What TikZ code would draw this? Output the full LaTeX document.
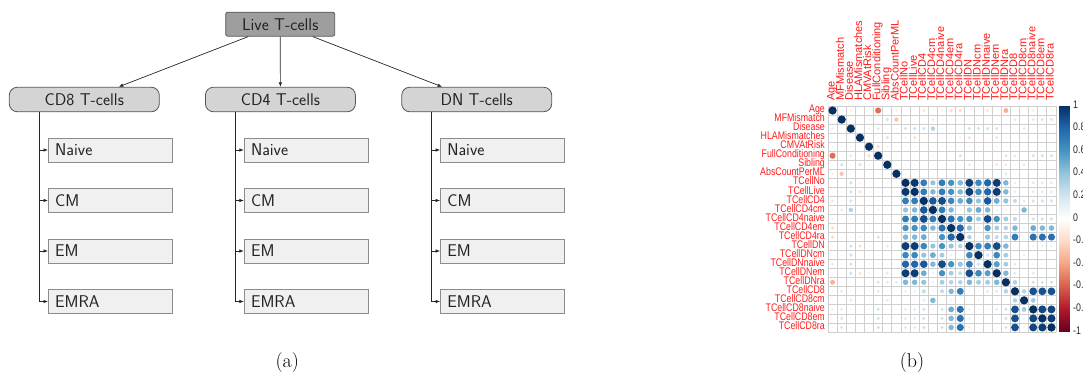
\documentclass[tikz,border=0pt]{standalone}
\usepackage{fontspec}
\usepackage{graphicx}
\usetikzlibrary{arrows.meta}
\newfontfamily\rfont{Liberation Sans}
\definecolor{p0}{HTML}{67001F}
\definecolor{p1}{HTML}{B2182B}
\definecolor{p2}{HTML}{D6604D}
\definecolor{p3}{HTML}{F4A582}
\definecolor{p4}{HTML}{FDDBC7}
\definecolor{p5}{HTML}{FFFFFF}
\definecolor{p6}{HTML}{D1E5F0}
\definecolor{p7}{HTML}{92C5DE}
\definecolor{p8}{HTML}{4393C3}
\definecolor{p9}{HTML}{2166AC}
\definecolor{p10}{HTML}{053061}
\definecolor{rootfill}{HTML}{9E9E9E}
\definecolor{midfill}{HTML}{D4D4D4}
\definecolor{leaffill}{HTML}{F0F0F0}
\definecolor{boxline}{HTML}{555555}
\definecolor{leafline}{HTML}{8C8C8C}
\definecolor{gridline}{HTML}{CFCFCF}
\definecolor{lblred}{HTML}{FF1A1A}
\definecolor{txt}{HTML}{222222}
\newcommand\cmset[3]{\expandafter\xdef\csname cm-#1-#2\endcsname{#3}\expandafter\xdef\csname cm-#2-#1\endcsname{#3}}
\newcommand\cmcolor[1]{%
 \pgfmathtruncatemacro\cidx{min(9,floor((#1+1)*5))}%
 \pgfmathtruncatemacro\cnext{\cidx+1}%
 \pgfmathtruncatemacro\cpct{((#1+1)*5-\cidx)*100}%
 \colorlet{cc}{p\cnext!\cpct!p\cidx}}
\tikzset{
 conn/.style={draw=black!85, line width=0.7pt},
 tip/.style={-{Latex[length=4.5pt,width=3.5pt]}},
 rootbox/.style={draw=boxline, fill=rootfill, rounded corners=2pt, line width=0.8pt,
   minimum width=109pt, minimum height=24pt, inner sep=0pt, text=txt,
   font=\sffamily\fontsize{17}{20}\selectfont},
 midbox/.style={draw=boxline, fill=midfill, rounded corners=8pt, line width=0.8pt,
   minimum width=150pt, minimum height=24.5pt, inner sep=0pt, text=txt,
   font=\sffamily\fontsize{17}{20}\selectfont},
 leafbox/.style={draw=leafline, fill=leaffill, line width=0.9pt,
   minimum height=24pt, text width=110.6pt, inner xsep=6.7pt, inner ysep=0pt, align=left, text=txt,
   font=\sffamily\fontsize{17}{20}\selectfont},
 rowlab/.style={anchor=mid east, inner sep=0pt, text=lblred, font=\rfont\fontsize{11}{13}\selectfont},
 collab/.style={anchor=mid west, rotate=90, inner sep=0pt, text=lblred, font=\rfont\fontsize{11}{13}\selectfont},
 leglab/.style={anchor=mid west, inner sep=0pt, text=black!85, font=\rfont\fontsize{11}{13}\selectfont},
 caplab/.style={inner sep=0pt, font=\fontsize{20}{24}\selectfont},
}
\begin{document}
\begin{tikzpicture}[x=1pt,y=-1pt]
\useasboundingbox (0,0) rectangle (1083,383);
% ---------------- (a) tree ----------------
\node[rootbox] (live) at (280.2,24.2) {Live T-cells};
\node[midbox] (cd8) at (84.3,99.5) {CD8 T-cells};
\node[midbox] (cd4) at (280.4,99.5) {CD4 T-cells};
\node[midbox] (dn) at (476.7,99.5) {DN T-cells};
\draw[conn,tip] ([xshift=-32pt]live.south) -- ([xshift=34.4pt]cd8.north);
\draw[conn,tip] (live.south) -- (cd4.north);
\draw[conn,tip] ([xshift=32.5pt]live.south) -- ([xshift=-34.5pt]dn.north);
\foreach \p/\lx/\tx in {cd8/110.5/39.2, cd4/306.3/235, dn/502.6/431.7} {
  \coordinate (\p t) at ({\tx},111.8);
  \foreach \lab/\ly [count=\q] in {Naive/150, CM/200.5, EM/251, EMRA/301.5} {
    \node[leafbox] (\p l\q) at ({\lx},{\ly}) {\lab};
    \draw[conn,tip] (\p t) |- (\p l\q.west);
  }
}
\node[caplab] (capa) at (287.3,363) {(a)};
% ---------------- (b) corrplot ----------------
\foreach \d in {1,...,25} {\cmset{\d}{\d}{1}}
\foreach \a/\b/\c in {
 1/3/-0.1, 1/5/0.06, 1/6/-0.55, 1/8/-0.1, 1/11/-0.15, 1/12/-0.05, 1/13/-0.12, 1/14/-0.2, 1/15/-0.2,
 1/16/-0.05, 1/18/-0.15, 1/20/-0.35, 1/21/-0.06, 1/23/-0.12, 1/25/-0.08,
 2/5/-0.06, 2/7/0.2, 2/8/-0.28, 2/11/-0.05, 2/12/-0.15, 2/17/-0.05, 2/21/0.15, 2/22/0.06, 2/23/0.15, 2/24/0.18, 2/25/0.18,
 3/5/-0.08, 3/6/0.15, 3/8/0.06, 3/9/0.2, 3/10/0.2, 3/11/0.2, 3/12/0.3, 3/13/0.06, 3/16/0.2, 3/17/0.2, 3/18/0.2, 3/19/0.2,
 3/20/0.05, 3/22/0.15, 3/24/0.05,
 4/5/0.04, 4/7/-0.2, 4/9/-0.1, 4/10/-0.18, 4/11/-0.05, 4/15/-0.08, 4/16/-0.18, 4/19/-0.18, 4/20/-0.05,
 5/6/-0.2, 5/7/-0.08, 5/16/0.06, 5/18/0.06, 5/19/0.08,
 6/12/-0.08, 6/14/0.05, 6/15/0.18, 6/19/0.05, 6/20/0.18, 6/21/0.15, 6/22/0.05, 6/23/0.2, 6/24/0.2, 6/25/0.2,
 7/8/-0.05, 7/9/-0.06, 7/10/-0.06, 7/15/-0.05, 7/16/-0.15, 7/18/-0.06, 7/19/-0.15, 7/20/-0.15, 7/22/0.15, 7/25/0.04,
 8/9/0.06, 8/10/0.06, 8/14/0.05, 8/15/0.05, 8/16/0.04, 8/20/0.15, 8/25/-0.06,
 9/10/0.97, 9/11/0.7, 9/12/0.4, 9/13/0.7, 9/14/0.6, 9/15/0.45, 9/16/0.95, 9/17/0.65, 9/18/0.8, 9/19/0.95, 9/20/0.45,
 9/21/0.12, 9/22/0.04, 9/23/0.15, 9/24/0.15, 9/25/0.15,
 10/11/0.7, 10/12/0.45, 10/13/0.7, 10/14/0.6, 10/15/0.45, 10/16/0.95, 10/17/0.65, 10/18/0.8, 10/19/0.95, 10/20/0.45,
 10/21/0.12, 10/22/0.04, 10/23/0.15, 10/24/0.15, 10/25/0.15,
 11/12/0.85, 11/13/0.9, 11/14/0.65, 11/15/0.5, 11/16/0.65, 11/17/0.4, 11/18/0.85, 11/19/0.5, 11/20/0.4,
 11/21/0.25, 11/22/0.15, 11/23/0.2, 11/24/0.2, 11/25/0.2,
 12/13/0.7, 12/14/0.45, 12/15/0.06, 12/16/0.4, 12/17/0.5, 12/18/0.45, 12/19/0.1, 12/20/0.1, 12/21/0.06, 12/22/0.45, 12/23/0.06,
 13/14/0.75, 13/15/0.6, 13/16/0.6, 13/17/0.35, 13/18/0.9, 13/19/0.6, 13/20/0.35, 13/21/0.25, 13/22/0.06, 13/23/0.2, 13/24/0.2, 13/25/0.2,
 14/15/0.8, 14/16/0.4, 14/17/0.1, 14/18/0.6, 14/19/0.35, 14/20/0.3, 14/21/0.45, 14/22/0.1, 14/23/0.5, 14/24/0.45, 14/25/0.45,
 15/16/0.3, 15/17/0.05, 15/18/0.4, 15/19/0.25, 15/20/0.3, 15/21/0.7, 15/22/0.06, 15/23/0.75, 15/24/0.75, 15/25/0.75,
 16/17/0.65, 16/18/0.7, 16/19/0.9, 16/20/0.45, 16/21/0.06, 16/22/0.04, 16/23/0.1, 16/24/0.1, 16/25/0.1,
 17/18/0.2, 17/19/0.65, 17/20/0.35, 17/21/0.04, 17/22/0.1,
 18/19/0.55, 18/20/0.35, 18/21/0.15, 18/22/0.04, 18/23/0.08,
 19/20/0.45, 19/21/0.15, 19/23/0.15,
 20/21/0.3, 20/22/0.06, 20/23/0.2, 20/24/0.2, 20/25/0.2,
 21/22/0.3, 21/23/0.88, 21/24/0.88, 21/25/0.88,
 22/23/0.35, 22/24/0.1, 22/25/0.06,
 23/24/0.92, 23/25/0.92, 24/25/0.95} {\cmset{\a}{\b}{\c}}
% grid
\foreach \g in {0,...,25} {
  \draw[gridline, line width=0.8pt] ({828+9.12*\g},106) -- ({828+9.12*\g},332);
  \draw[gridline, line width=0.8pt] (828,{106+9.04*\g}) -- (1056,{106+9.04*\g});
}
% circles
\foreach \i in {1,...,25} {
  \foreach \j in {1,...,25} {
    \ifcsname cm-\i-\j\endcsname
      \edef\cval{\csname cm-\i-\j\endcsname}%
    \else
      \pgfmathsetmacro\cval{mod(\i*\j+\i+\j,3)==0 ? -0.04 : 0.04}%
    \fi
    \cmcolor{\cval}%
    \pgfmathsetmacro\crad{4.15*sqrt(abs(\cval))}%
    \fill[cc] ({828+9.12*\j-4.56},{106+9.04*\i-4.52}) circle[radius=\crad];
  }
}
% labels
\foreach \nm [count=\n] in {Age,MFMismatch,Disease,HLAMismatches,CMVAtRisk,FullConditioning,Sibling,AbsCountPerML,TCellNo,TCellLive,TCellCD4,TCellCD4cm,TCellCD4naive,TCellCD4em,TCellCD4ra,TCellDN,TCellDNcm,TCellDNnaive,TCellDNem,TCellDNra,TCellCD8,TCellCD8cm,TCellCD8naive,TCellCD8em,TCellCD8ra} {
  \node[rowlab] (rl\n) at (825,{106+9.04*\n-4.52}) {\scalebox{0.8}[1]{\nm}};
  \node[collab] (cl\n) at ({828+9.12*\n-4.56},101) {\nm};
}
% colour legend
\foreach \s in {0,...,112} {
  \pgfmathsetmacro\sval{1-(\s+0.5)/113*2}%
  \cmcolor{\sval}%
  \fill[cc] (1059,{106+2*\s}) rectangle (1070,{108.4+2*\s});
}
\foreach \lv/\lt [count=\m] in {1/1, 0.8/0.8, 0.6/0.6, 0.4/0.4, 0.2/0.2, 0/0, -0.2/-0.2, -0.4/-0.4, -0.6/-0.6, -0.8/-0.8, -1/-1} {
  \node[leglab] (lg\m) at (1073,{106+(1-\lv)*113}) {\scalebox{0.8}[1]{\lt}};
}
\node[caplab] (capb) at (912,363) {(b)};
\end{tikzpicture}
\end{document}
